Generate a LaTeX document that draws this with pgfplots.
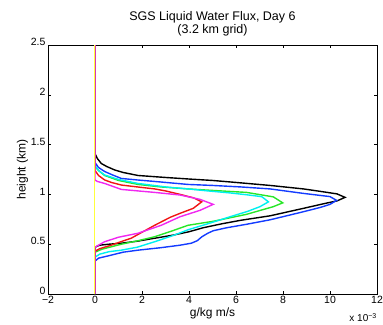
\documentclass[border=0pt]{standalone}
\usepackage{pgfplots}
\pgfplotsset{compat=1.18}
\usepackage{fontspec}
\setmainfont{Liberation Sans}
\definecolor{mblue}{RGB}{20,60,255}
\definecolor{mgreen}{RGB}{40,230,40}
\definecolor{mcyan}{RGB}{0,240,240}
\definecolor{mred}{RGB}{240,20,20}
\definecolor{mmag}{RGB}{240,40,240}
\definecolor{myel}{RGB}{255,255,60}
\begin{document}
\begin{tikzpicture}
\useasboundingbox (-48bp,-31bp) rectangle (335bp,294bp);
\begin{axis}[
  at={(0,0)}, anchor=south west,
  scale only axis, width=329bp, height=249bp,
  xmin=-2, xmax=12, ymin=0, ymax=2.5,
  xtick={-2,0,2,4,6,8,10,12},
  xticklabels={−2,0,2,4,6,8,10,12},
  ytick={0,0.5,1,1.5,2,2.5},
  yticklabels={0,0.5,1,1.5,2,2.5},
  /pgf/number format/assume math mode=true,
  tick align=inside, tick pos=both,
  major tick length=3bp,
  ticklabel style={font=\fontsize{10.5bp}{11bp}\selectfont},
  xticklabel style={yshift=1bp},
  yticklabel style={xshift=1bp, yshift=3bp},
  label style={font=\fontsize{12bp}{13bp}\selectfont},
  xlabel={g/kg m/s},
  xlabel style={yshift=3bp},
  ylabel={height (km)},
  ylabel style={yshift=-4bp},
  title style={font=\fontsize{12.5bp}{13.5bp}\selectfont, align=center, yshift=-1bp},
  title={SGS Liquid Water Flux, Day 6\\(3.2 km grid)},
  axis line style={black, line width=0.6bp},
  every tick/.style={black, line width=0.5bp},
  clip mode=individual,
]
\addplot[black, line width=1.4bp] coordinates {(0,0)(0,0.47)(0.2,0.49)(0.6,0.5)(1.12,0.51)(1.8,0.53)(2.54,0.56)(3.3,0.59)(4.0,0.625)(4.6,0.665)(5.4,0.705)(6.2,0.74)(7.45,0.785)(8.87,0.86)(9.8,0.91)(10.3,0.935)(10.64,0.97)(10.3,1.005)(9.6,1.03)(8.87,1.055)(7.45,1.09)(6,1.12)(5,1.14)(3.96,1.155)(3,1.17)(1.83,1.19)(1.2,1.22)(0.84,1.245)(0.5,1.28)(0.27,1.31)(0.1,1.36)(0,1.41)(0,2.5)};
\addplot[mblue, line width=1.4bp] coordinates {(0,0)(0,0.33)(0.15,0.36)(0.69,0.39)(1.2,0.42)(1.83,0.44)(2.8,0.465)(3.62,0.49)(4.1,0.51)(4.35,0.535)(4.55,0.575)(4.8,0.61)(5.03,0.635)(5.6,0.665)(6.45,0.7)(7.45,0.745)(8.87,0.826)(9.6,0.87)(10.0,0.9)(10.28,0.94)(10.0,0.978)(9.4,0.995)(8.87,1.01)(7.45,1.055)(6.2,1.075)(5,1.09)(3.96,1.10)(2.54,1.13)(1.8,1.145)(1.12,1.16)(0.7,1.2)(0.41,1.23)(0.15,1.27)(0,1.32)(0,2.5)};
\addplot[mgreen, line width=1.4bp] coordinates {(0,0)(0,0.42)(0.3,0.45)(1.12,0.5)(1.83,0.535)(2.54,0.575)(3.3,0.635)(3.96,0.69)(5.03,0.73)(6.45,0.8)(7.59,0.877)(7.99,0.915)(7.59,0.975)(6.45,1.02)(5.0,1.04)(3.96,1.055)(2.8,1.075)(1.83,1.1)(1.0,1.14)(0.41,1.19)(0.15,1.24)(0,1.28)(0,2.5)};
\addplot[mcyan, line width=1.4bp] coordinates {(0,0)(0,0.37)(0.2,0.40)(0.6,0.425)(1.12,0.44)(1.8,0.47)(2.54,0.525)(3.3,0.585)(3.96,0.645)(4.8,0.705)(5.74,0.775)(6.5,0.83)(7.02,0.877)(7.38,0.925)(7.1,0.977)(6.5,0.995)(5.74,1.015)(4.8,1.035)(3.96,1.055)(3,1.075)(1.83,1.11)(1.0,1.15)(0.41,1.195)(0.15,1.24)(0,1.29)(0,2.5)};
\addplot[mred, line width=1.4bp] coordinates {(0,0)(0,0.43)(0.2,0.455)(0.69,0.49)(1.1,0.525)(1.54,0.56)(2.0,0.62)(2.54,0.69)(3.2,0.77)(3.62,0.81)(4.18,0.86)(4.54,0.925)(4.2,0.965)(3.62,1.0)(3.0,1.035)(2.54,1.055)(1.8,1.075)(1.12,1.094)(0.7,1.12)(0.41,1.145)(0.15,1.19)(0,1.24)(0,2.5)};
\addplot[mmag, line width=1.4bp] coordinates {(0,0)(0,0.47)(0.15,0.49)(0.41,0.525)(1.0,0.57)(1.83,0.61)(2.82,0.69)(3.62,0.776)(4.47,0.84)(5.03,0.90)(4.47,0.95)(3.62,0.994)(2.54,1.02)(1.12,1.05)(0.41,1.11)(0.1,1.13)(0,1.145)(0,2.5)};
\addplot[myel, line width=1.0bp] coordinates {(-0.03,0)(-0.03,2.5)};
\end{axis}
\node[anchor=north east, font=\fontsize{10bp}{11bp}\selectfont, inner sep=0pt] at (329bp,-19bp) {x 10\textsuperscript{−3}};
\end{tikzpicture}
\end{document}
